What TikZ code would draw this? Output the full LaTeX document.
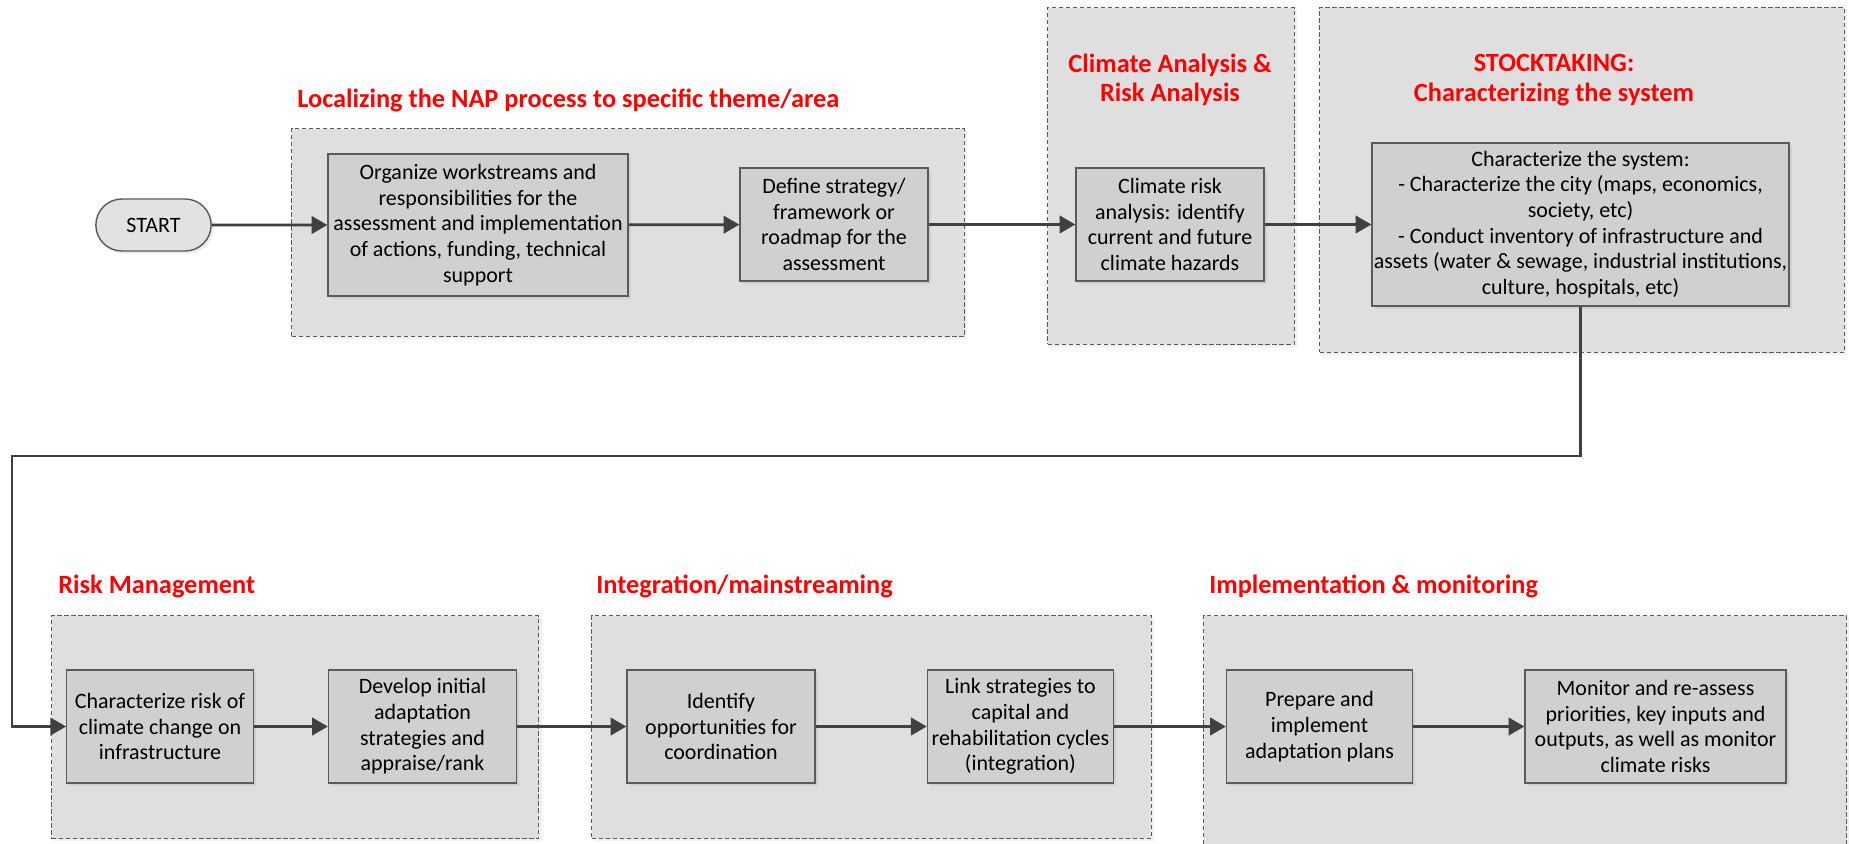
\documentclass[tikz,border=0pt]{standalone}
\usepackage{fontspec}
\setmainfont{Carlito}
\usepackage{xcolor}
\usetikzlibrary{arrows.meta,shapes.misc,shadows}
\definecolor{grpfill}{HTML}{DFDFDF}
\definecolor{boxfill}{HTML}{D0D0D0}
\definecolor{startfill}{HTML}{E2E2E2}
\definecolor{edgegray}{HTML}{5A5A5A}
\definecolor{flowgray}{HTML}{404040}
\definecolor{titlered}{HTML}{FF0000}
\newcommand{\bodyfont}{\fontsize{12.5}{14.6}\selectfont}
\newcommand{\headfont}{\fontsize{15}{16.8}\selectfont\bfseries}

\begin{document}
\begin{tikzpicture}[x=0.02cm,y=-0.02cm,
  group/.style={draw=edgegray, dash pattern=on 2.5pt off 1.5pt, line width=0.6pt, fill=grpfill, inner sep=0pt, anchor=north west,
    drop shadow={shadow xshift=1.5pt, shadow yshift=-1.5pt, opacity=0.12}},
  stepbox/.style={draw=edgegray, line width=0.8pt, fill=boxfill, align=center, inner sep=1pt, font=\bodyfont, minimum height=2.26cm,
    drop shadow={shadow xshift=1.5pt, shadow yshift=-1.5pt, opacity=0.15}},
  startbox/.style={rounded rectangle, draw=edgegray, line width=0.8pt, fill=startfill, font=\bodyfont, minimum width=2.54cm, minimum height=1.04cm,
    drop shadow={shadow xshift=1.5pt, shadow yshift=-1.5pt, opacity=0.15}},
  head/.style={text=titlered, font=\headfont, align=center, inner sep=0pt},
  flow/.style={draw=flowgray, line width=1.6pt, -{Triangle[length=9pt,width=10pt]}},
  loopflow/.style={draw=flowgray, line width=1.2pt, -{Triangle[length=9pt,width=10pt]}}]
\useasboundingbox (0,0) rectangle (1849,843);

\node[group, minimum width=13.46cm, minimum height=4.16cm] (grpA) at (291,128) {};
\node[group, minimum width=4.94cm, minimum height=6.74cm] (grpB) at (1047,7) {};
\node[group, minimum width=10.5cm, minimum height=6.9cm] (grpC) at (1319,7) {};
\node[group, minimum width=9.75cm, minimum height=4.46cm] (grpD) at (51,615) {};
\node[group, minimum width=11.2cm, minimum height=4.46cm] (grpE) at (591,615) {};
\node[group, minimum width=12.86cm, minimum height=4.8cm] (grpF) at (1203,615) {};

\node[head, anchor=west] (headA) at (297,100) {Localizing the NAP process to specific theme/area};
\node[head] (headB) at (1170,80) {Climate Analysis \&\\Risk Analysis};
\node[head] (headC) at (1554,80) {STOCKTAKING:\\Characterizing the system};
\node[head, anchor=west] (headD) at (58,586) {Risk Management};
\node[head, anchor=west] (headE) at (596,586) {Integration/mainstreaming};
\node[head, anchor=west] (headF) at (1209,586) {Implementation \& monitoring};

\node[startbox] (start) at (153.5,225) {START};
\node[stepbox, minimum width=6cm, minimum height=2.84cm] (organize) at (478,225) {Organize workstreams and\\responsibilities for the\\assessment and implementation\\of actions, funding, technical\\support};
\node[stepbox, minimum width=3.76cm] (define) at (834,224.5) {Define strategy/\\framework or\\roadmap for the\\assessment};
\node[stepbox, minimum width=3.76cm] (climrisk) at (1170,224.5) {Climate risk\\analysis: identify\\current and future\\climate hazards};
\node[stepbox, minimum width=8.22cm, minimum height=3.26cm] (system) at (1580.5,224.5) {Characterize the system:\\- Characterize the city (maps, economics,\\society, etc)\\- Conduct inventory of infrastructure and\\assets (water \& sewage, industrial institutions,\\culture, hospitals, etc)};

\node[stepbox, minimum width=3.73cm] (charrisk) at (160,726.5) {Characterize risk of\\climate change on\\infrastructure};
\node[stepbox, minimum width=3.76cm] (develop) at (422.5,726.5) {Develop initial\\adaptation\\strategies and\\appraise/rank};
\node[stepbox, minimum width=3.76cm] (identify) at (721,726.5) {Identify\\opportunities for\\coordination};
\node[stepbox, minimum width=3.72cm] (link) at (1020.4,726.5) {Link strategies to\\capital and\\rehabilitation cycles\\(integration)};
\node[stepbox, minimum width=3.72cm] (prepare) at (1319.5,726.5) {Prepare and\\implement\\adaptation plans};
\node[stepbox, minimum width=5.22cm] (monitor) at (1655.5,726.5) {Monitor and re-assess\\priorities, key inputs and\\outputs, as well as monitor\\climate risks};

\coordinate (turn) at (12,456);

\draw[flow] (start) -- (organize);
\draw[flow] (organize) -- (define);
\draw[flow] (define) -- (climrisk);
\draw[flow] (climrisk) -- (system);
\draw[loopflow] (system.south) |- (turn) |- (charrisk.west);
\draw[flow] (charrisk) -- (develop);
\draw[flow] (develop) -- (identify);
\draw[flow] (identify) -- (link);
\draw[flow] (link) -- (prepare);
\draw[flow] (prepare) -- (monitor);
\end{tikzpicture}
\end{document}
